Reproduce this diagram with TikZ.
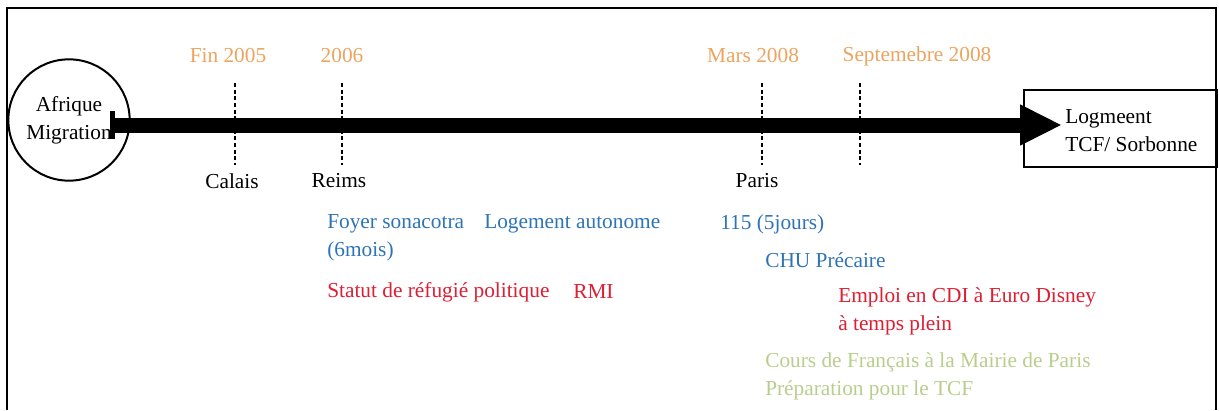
\documentclass[tikz,border=0pt]{standalone}
\usepackage{fontspec}
\setmainfont{Liberation Serif}
\usetikzlibrary{arrows.meta}

\definecolor{yearorange}{RGB}{236,164,96}
\definecolor{lodgeblue}{RGB}{46,116,181}
\definecolor{statusred}{RGB}{222,30,50}
\definecolor{coursegreen}{RGB}{184,206,140}

\begin{document}
\begin{tikzpicture}[
    x=0.75pt,y=-0.75pt,
    every node/.style={font=\fontsize{16}{21}\selectfont, inner sep=0pt},
    year/.style={text=yearorange},
    lodging/.style={text=lodgeblue, anchor=west, align=left},
    status/.style={text=statusred, anchor=west, align=left},
    course/.style={text=coursegreen, anchor=west, align=left},
    tick/.style={line width=1.2pt, dash pattern=on 3pt off 2pt},
]
    \useasboundingbox (0,0) rectangle (1219,410);
    \draw[line width=2.2pt] (7,410) -- (7,8) -- (1216,8) -- (1216,410);

    % start and end
    \node[draw, circle, line width=1.5pt, minimum size=91pt, align=center] (origin) at (69,120) {Afrique\\Migration};
    \node[draw, line width=1.5pt, minimum width=144.75pt, minimum height=57.75pt, anchor=west] (goal) at (1023,128.5) {};
    \node[anchor=west, align=left] (goaltext) at (1065,131) {Logmeent\\TCF/ Sorbonne};

    % time line
    \coordinate (tail) at (110,125);
    \coordinate (head) at (1062,125);
    \draw[
        line width=11.25pt,
        {Bar[width=21pt,line width=3.75pt]}-{Triangle[length=31.5pt,width=28.5pt]},
    ] (tail) -- (head);

    \foreach \x in {235,342,762,860}
        \draw[tick] (\x,83) -- (\x,165);

    \node[year] (fin2005) at (228,56) {Fin 2005};
    \node[year] (y2006) at (342,56) {2006};
    \node[year] (mars2008) at (753,56) {Mars 2008};
    \node[year] (sept2008) at (917,56) {Septemebre 2008};

    \node (calais) at (232,181) {Calais};
    \node (reims) at (339,181) {Reims};
    \node (paris) at (757,181) {Paris};

    % situations
    \node[lodging] (foyer) at (327,238) {Foyer sonacotra\\(6mois)};
    \node[lodging] (autonome) at (484,224) {Logement autonome};
    \node[lodging] (samu) at (720,224) {115 (5jours)};
    \node[lodging] (chu) at (765,260) {CHU Précaire};
    \node[status] (refugie) at (327,292) {Statut de réfugié politique};
    \node[status] (rmi) at (573,292) {RMI};
    \node[status] (emploi) at (838,311) {Emploi en CDI à Euro Disney\\à temps plein};
    \node[course] (cours) at (765,376) {Cours de Français à la Mairie de Paris\\Préparation pour le TCF};
\end{tikzpicture}
\end{document}
